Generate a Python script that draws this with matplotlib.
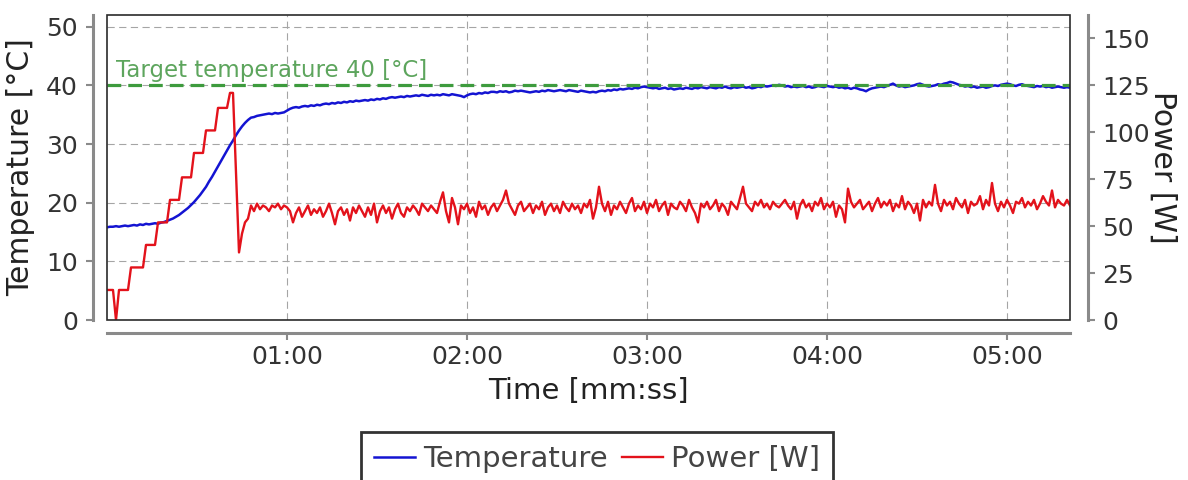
import numpy as np
import matplotlib
matplotlib.use("Agg")
import matplotlib.pyplot as plt
from matplotlib.ticker import FuncFormatter, FixedLocator
from matplotlib.patches import Rectangle

# ---------------- data (1 sample per second) ----------------
temperature = [
    15.8, 15.9, 15.9, 16.0, 15.9, 16.0, 16.1, 16.0, 16.1, 16.2,
    16.1, 16.3, 16.2, 16.4, 16.3, 16.4, 16.5, 16.4, 16.6, 16.7,
    16.9, 17.1, 17.3, 17.6, 17.9, 18.3, 18.7, 19.1, 19.6, 20.1,
    20.7, 21.3, 22.0, 22.7, 23.6, 24.4, 25.3, 26.2, 27.1, 28.0,
    28.9, 29.8, 30.6, 31.5, 32.3, 33.0, 33.6, 34.1, 34.5, 34.6,
    34.8, 34.9, 35.0, 35.1, 35.2, 35.1, 35.3, 35.2, 35.3, 35.4,
    35.7, 36.0, 36.2, 36.3, 36.2, 36.4, 36.5, 36.4, 36.6, 36.5,
    36.7, 36.6, 36.8, 36.9, 36.8, 37.0, 36.9, 37.1, 37.0, 37.2,
    37.1, 37.3, 37.2, 37.4, 37.3, 37.4, 37.5, 37.4, 37.6, 37.5,
    37.7, 37.6, 37.8, 37.7, 37.9, 38.0, 37.9, 38.0, 38.1, 38.0,
    38.2, 38.1, 38.2, 38.3, 38.2, 38.4, 38.3, 38.2, 38.4, 38.3,
    38.4, 38.3, 38.5, 38.4, 38.3, 38.5, 38.4, 38.3, 38.2, 38.0,
    38.3, 38.5, 38.6, 38.5, 38.7, 38.6, 38.8, 38.7, 38.9, 38.9,
    38.8, 39.0, 38.9, 39.0, 38.8, 38.9, 39.1, 39.0, 39.1, 39.0,
    38.9, 38.8, 38.9, 39.0, 38.9, 39.1, 39.0, 39.2, 39.1, 39.0,
    39.1, 39.2, 39.1, 39.0, 39.2, 39.1, 39.0, 38.9, 39.1, 39.0,
    38.9, 38.8, 38.9, 38.8, 39.0, 39.1, 39.0, 39.2, 39.1, 39.3,
    39.2, 39.4, 39.3, 39.4, 39.5, 39.4, 39.6, 39.5, 39.7, 39.8,
    39.7, 39.6, 39.5, 39.6, 39.4, 39.5, 39.6, 39.4, 39.5, 39.3,
    39.4, 39.5, 39.4, 39.6, 39.5, 39.4, 39.6, 39.5, 39.7, 39.6,
    39.5, 39.7, 39.6, 39.5, 39.7, 39.6, 39.8, 39.6, 39.5, 39.7,
    39.6, 39.7, 39.8, 39.6, 39.7, 39.5, 39.6, 39.8, 39.7, 39.9,
    39.8, 39.9, 40.0, 39.9, 40.1, 40.0, 39.8, 39.9, 39.7, 39.8,
    39.7, 39.8, 39.9, 39.7, 39.8, 39.6, 39.7, 39.9, 39.8, 39.7,
    39.9, 39.8, 39.7, 39.8, 39.6, 39.7, 39.5, 39.6, 39.4, 39.6,
    39.5, 39.3, 39.2, 39.0, 39.3, 39.5, 39.6, 39.7, 39.8, 39.7,
    39.9, 40.1, 40.3, 40.0, 39.8, 39.9, 39.7, 39.8, 39.9, 40.0,
    40.2, 40.3, 40.1, 39.9, 39.8, 39.9, 40.0, 40.2, 40.1, 40.3,
    40.4, 40.6, 40.5, 40.3, 40.1, 40.0, 39.8, 39.9, 39.7, 39.8,
    39.6, 39.7, 39.8, 39.6, 39.7, 39.9, 40.0, 39.9, 40.1, 40.2,
    40.3, 40.2, 40.0, 39.9, 40.1, 40.2, 40.0, 39.9, 39.8, 39.7,
    39.9, 39.8, 39.9, 39.7, 39.8, 39.6, 39.7, 39.8, 39.7, 39.6,
    39.7, 39.6,
]

power = [
    16, 16, 16, 0, 16, 16, 16, 16, 28, 28,
    28, 28, 28, 40, 40, 40, 40, 52, 52, 52,
    52, 64, 64, 64, 64, 76, 76, 76, 76, 89,
    89, 89, 89, 101, 101, 101, 101, 113, 113, 113,
    113, 121, 121, 79, 36, 46, 52, 54, 61, 58,
    62, 59, 61, 60, 58, 61, 60, 62, 59, 61,
    60, 58, 52, 57, 60, 55, 58, 61, 56, 59,
    57, 60, 55, 58, 62, 57, 51, 58, 60, 56,
    59, 53, 60, 57, 61, 58, 55, 60, 56, 62,
    52, 58, 61, 57, 60, 54, 59, 62, 57, 55,
    60, 58, 61, 59, 56, 62, 60, 58, 61, 59,
    57, 63, 68, 58, 52, 65, 60, 51, 61, 59,
    62, 57, 60, 55, 63, 59, 61, 56, 60, 62,
    58, 61, 64, 69, 62, 59, 56, 61, 63, 58,
    60, 62, 57, 61, 59, 63, 56, 60, 62, 58,
    61, 57, 63, 60, 58, 62, 59, 61, 57, 62,
    60, 64, 54, 60, 71, 62, 58, 63, 56, 61,
    59, 63, 60, 57, 62, 65, 58, 61, 59, 63,
    57, 62, 60, 64, 58, 61, 63, 56, 62, 60,
    59, 63, 61, 58, 64, 60, 57, 52, 62, 60,
    63, 59, 61, 64, 58, 62, 60, 56, 63, 61,
    59, 65, 71, 62, 60, 58, 63, 61, 64, 60,
    62, 59, 63, 61, 60, 62, 64, 61, 59, 63,
    54, 61, 64, 60, 62, 58, 63, 61, 65, 59,
    62, 60, 63, 55, 61, 59, 52, 70, 63, 60,
    62, 64, 59, 61, 63, 58, 62, 65, 60, 63,
    61, 64, 58, 62, 60, 66, 59, 63, 61, 57,
    62, 53, 64, 60, 63, 61, 72, 62, 58, 64,
    61, 63, 59, 65, 62, 60, 64, 57, 63, 61,
    62, 66, 59, 64, 61, 73, 62, 58, 63, 60,
    64, 61, 57, 63, 62, 65, 60, 63, 61, 64,
    59, 62, 66, 63, 61, 69, 60, 64, 62, 61,
    64, 61,
]

time_s = np.arange(len(temperature))  # seconds

target_temperature = 40
temp_ticks = [0, 10, 20, 30, 40, 50]
power_ticks = [0, 25, 50, 75, 100, 125, 150]
time_ticks = [60, 120, 180, 240, 300]

# ---------------- style ----------------
plt.rcParams['font.family'] = ['DejaVu Sans']
SPINE = '#8a8a8a'
TXT = '#333333'
BLUE = '#1414d2'
RED = '#e3121b'
GREEN = '#3d9b3d'
GREEN_TXT = '#5da55d'

W, H = 1188, 480
fig = plt.figure(figsize=(W / 100, H / 100), dpi=100)
ax = fig.add_axes([107 / W, 1 - 320 / H, (1070 - 107) / W, (320 - 15) / H])
ax2 = ax.twinx()

ax.plot(time_s, temperature, color=BLUE, lw=1.8, zorder=3)
ax2.plot(time_s, power, color=RED, lw=1.7, zorder=3)
ax.axhline(target_temperature, color=GREEN, lw=2.3, linestyle=(0, (4.3, 2.2)), zorder=4)
ax.text(3, 41.5, f'Target temperature {target_temperature} [°C]', color=GREEN_TXT,
        fontsize=16.5, va='baseline', ha='left')

ax.set_xlim(0, 321)
ax.set_ylim(0, 52)
ax2.set_ylim(0, 52 * 3.125)

ax.yaxis.set_major_locator(FixedLocator(temp_ticks))
ax2.yaxis.set_major_locator(FixedLocator(power_ticks))
ax.xaxis.set_major_locator(FixedLocator(time_ticks))
ax.xaxis.set_major_formatter(FuncFormatter(lambda v, p: f'{int(v // 60):02d}:{int(v % 60):02d}'))

ax.grid(True, color='#a5a5a5', lw=0.8, linestyle=(0, (6.5, 4)))
ax.set_axisbelow(True)

for s in ['top', 'right']:
    ax.spines[s].set_visible(False)
for s in ['top', 'left', 'bottom']:
    ax2.spines[s].set_visible(False)
ax.spines['left'].set_position(('outward', 10))
ax.spines['bottom'].set_position(('outward', 9))
ax2.spines['right'].set_position(('outward', 13))
for sp in [ax.spines['left'], ax.spines['bottom'], ax2.spines['right']]:
    sp.set_color(SPINE)
    sp.set_linewidth(2.2)

ax.tick_params(axis='both', colors=SPINE, labelcolor=TXT, labelsize=18, length=5, width=1.5)
ax.tick_params(axis='x', pad=4)
ax.tick_params(axis='y', pad=6)
ax2.tick_params(axis='y', colors=SPINE, labelcolor=TXT, labelsize=18, length=5, width=1.5, pad=5)

ax2.add_patch(Rectangle((0, 0), 1, 1, transform=ax.transAxes, fill=False,
                        ec='#2b2b2b', lw=1.2, clip_on=False, zorder=10))

ax.set_ylabel('Temperature [°C]', fontsize=21.5, color='#222222', labelpad=8)
ax2.set_ylabel('Power [W]', fontsize=21.5, color='#222222', rotation=270, labelpad=20)
ax.set_xlabel('Time [mm:ss]', fontsize=21, color='#222222', labelpad=6)

h1, = ax.plot([], [], color=BLUE, lw=1.8)
h2, = ax.plot([], [], color=RED, lw=1.7)
leg = fig.legend([h1, h2], ['Temperature', 'Power [W]'], loc='upper center',
                 bbox_to_anchor=(597 / W, 1 - 432 / H), ncol=2, fontsize=21,
                 frameon=True, fancybox=False, shadow=False, handlelength=1.4,
                 handletextpad=0.28, columnspacing=0.5, borderpad=0.45,
                 borderaxespad=0.0, labelcolor='#444444')
leg.get_frame().set_edgecolor('#000000')
leg.get_frame().set_linewidth(2.0)

fig.savefig('out.png', dpi=100)
